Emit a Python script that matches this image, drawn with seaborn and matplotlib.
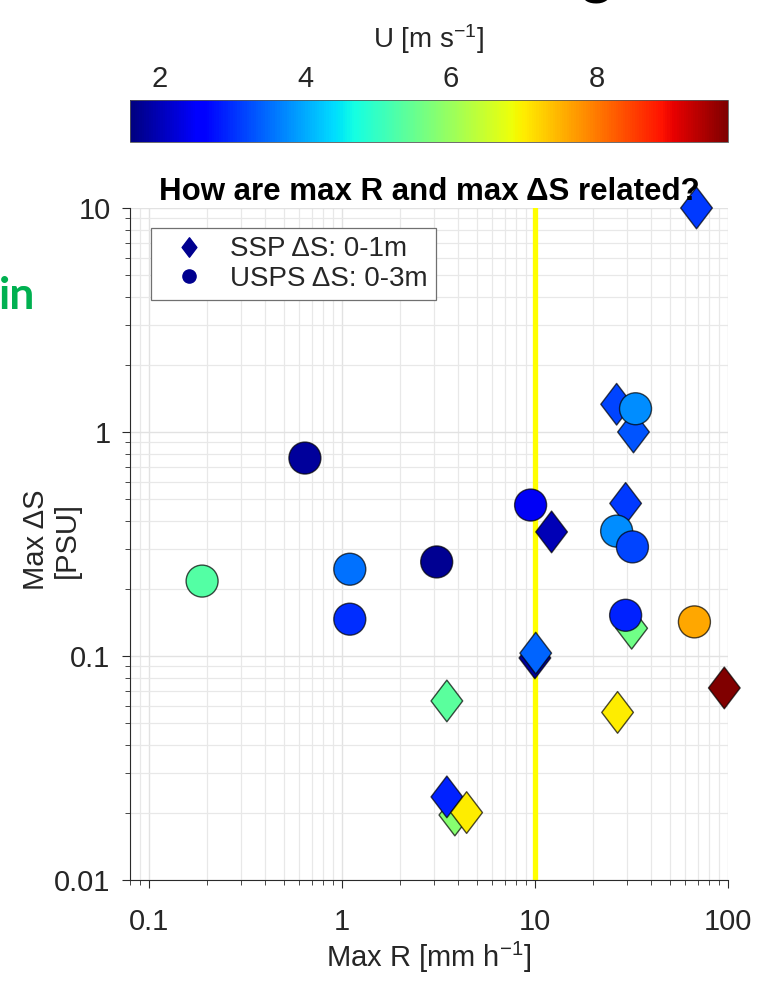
import numpy as np
import pandas as pd
import matplotlib
matplotlib.use("Agg")
import matplotlib.pyplot as plt
import seaborn as sns
from matplotlib.lines import Line2D
from matplotlib.colors import Normalize
from matplotlib.cm import ScalarMappable
from matplotlib.path import Path

# SSP profiles: max salinity difference over 0-1 m
ssp_rain = [68.7, 26.5, 32.4, 29.5, 12.2, 10.0, 10.1, 31.7, 3.5, 26.8, 95.7, 3.85, 3.5, 4.43]
ssp_dsal = [10.0, 1.33, 1.0, 0.48, 0.358, 0.098, 0.103, 0.133, 0.063, 0.056, 0.072, 0.0195, 0.0235, 0.020]
ssp_wind = [3.1, 3.2, 3.3, 3.1, 2.0, 1.8, 3.45, 5.6, 5.35, 7.0, 9.8, 5.8, 2.9, 7.0]

# USPS profiles: max salinity difference over 0-3 m
usps_rain = [0.189, 0.644, 1.10, 1.10, 3.10, 9.5, 33.2, 26.5, 32.0, 29.5, 67.0]
usps_dsal = [0.216, 0.765, 0.244, 0.146, 0.263, 0.472, 1.27, 0.361, 0.307, 0.152, 0.142]
usps_wind = [5.3, 1.8, 3.55, 3.0, 1.75, 2.45, 3.75, 3.75, 3.2, 2.9, 7.6]

rain_threshold = 10.0
wind_range = (1.6, 9.8)
wind_ticks = [2, 4, 6, 8]

ssp = pd.DataFrame({"R": ssp_rain, "dS": ssp_dsal, "U": ssp_wind})
usps = pd.DataFrame({"R": usps_rain, "dS": usps_dsal, "U": usps_wind})

sns.set_theme(style="white")
plt.rcParams["font.family"] = ["Liberation Sans", "DejaVu Sans"]
plt.rcParams["mathtext.fontset"] = "custom"
plt.rcParams["mathtext.rm"] = "Liberation Sans"
plt.rcParams["mathtext.it"] = "Liberation Sans"

jet = matplotlib.colormaps["jet"]
TXT = "#262626"

W, H = 757, 982
fig = plt.figure(figsize=(W / 100, H / 100), dpi=100)
ax = fig.add_axes([130 / W, 1 - 880 / H, 598 / W, 672 / H])

# taller-than-wide diamond marker
diamond = Path([(0, 1), (0.76, 0), (0, -1), (-0.76, 0), (0, 1)],
               [Path.MOVETO, Path.LINETO, Path.LINETO, Path.LINETO, Path.CLOSEPOLY])

ax.axvline(rain_threshold, color="#ffff00", lw=3.8, zorder=1)

norm = Normalize(*wind_range)
sns.scatterplot(data=ssp, x="R", y="dS", hue="U", palette=jet, hue_norm=wind_range,
                marker=diamond, s=900, edgecolor=(0, 0, 0, 0.7), linewidth=1.0,
                legend=False, ax=ax, zorder=3)
sns.scatterplot(data=usps, x="R", y="dS", hue="U", palette=jet, hue_norm=wind_range,
                marker="o", s=530, edgecolor=(0, 0, 0, 0.7), linewidth=1.0,
                legend=False, ax=ax, zorder=4)
for c in ax.collections:
    c.set_clip_on(False)

ax.set_xscale("log")
ax.set_yscale("log")
ax.set_xlim(0.08, 100)
ax.set_ylim(0.01, 10)
ax.set_xticks([0.1, 1, 10, 100])
ax.set_xticklabels(["0.1", "1", "10", "100"])
ax.set_yticks([0.01, 0.1, 1, 10])
ax.set_yticklabels(["0.01", "0.1", "1", "10"])

ax.grid(True, which="major", color="#e2e2e2", lw=1.0)
ax.grid(True, which="minor", color="#e8e8e8", lw=0.9)
ax.set_axisbelow(True)
for side in ["top", "right"]:
    ax.spines[side].set_visible(False)
for side in ["left", "bottom"]:
    ax.spines[side].set_color("#2a2a2a")
    ax.spines[side].set_linewidth(0.8)
ax.tick_params(which="major", direction="out", length=6, width=0.8, color="#2a2a2a",
               labelsize=21, labelcolor=TXT, left=True, bottom=True)
ax.tick_params(axis="x", which="major", pad=14)
ax.tick_params(axis="y", which="major", pad=8)
ax.tick_params(which="minor", direction="out", length=3.5, width=0.6, color="#2a2a2a",
               left=True, bottom=True)

ax.set_xlabel("Max R [mm h$^{-1}$]", fontsize=21, color=TXT, labelpad=3)
ax.set_ylabel("Max ΔS\n[PSU]", fontsize=21, color=TXT, linespacing=1.15,
              multialignment="center")
ax.yaxis.set_label_coords(-0.082, 0.506)
ax.set_title("How are max R and max ΔS related?", fontsize=22.5, fontweight="bold",
             color="black", pad=6)

handles = [
    Line2D([], [], marker=diamond, ls="none", markersize=14, markerfacecolor="#00008f",
           markeredgecolor="#00008f"),
    Line2D([], [], marker="o", ls="none", markersize=9.5, markerfacecolor="#00008f",
           markeredgecolor="#00008f"),
]
leg = ax.legend(handles, ["SSP ΔS: 0-1m", "USPS ΔS: 0-3m"], loc="upper left",
                bbox_to_anchor=(21 / 598, 1 - 20 / 672), borderaxespad=0,
                fontsize=20, frameon=True, fancybox=False, framealpha=1,
                edgecolor="#707070", handletextpad=0.45, borderpad=0.3,
                labelspacing=0.12, handlelength=2.1)
leg.get_frame().set_linewidth(0.9)
leg.set_zorder(6)

# colour bar for wind speed
cax = fig.add_axes([130 / W, 1 - 142 / H, 598 / W, 42 / H])
cb = fig.colorbar(ScalarMappable(norm=norm, cmap=jet), cax=cax,
                  orientation="horizontal", ticklocation="top")
cb.set_ticks(wind_ticks)
cax.tick_params(direction="in", length=4, width=0.6, labelsize=21,
                labelcolor=TXT, pad=5)
cb.outline.set_linewidth(0.6)
cb.outline.set_edgecolor("#555555")
cb.set_label("U [m s$^{-1}$]", fontsize=20, color=TXT, labelpad=12)

fig.text(-0.002, 1 - 296 / H, "in", color="#00b050", fontsize=32, fontweight="bold",
         family=["Lato", "DejaVu Sans"], ha="left", va="center")
fig.text(580 / W, 1 + 8 / H, "g", color="black", fontsize=44,
         family=["Lato", "DejaVu Sans"], ha="left", va="baseline")

fig.savefig("out.png", dpi=100)
